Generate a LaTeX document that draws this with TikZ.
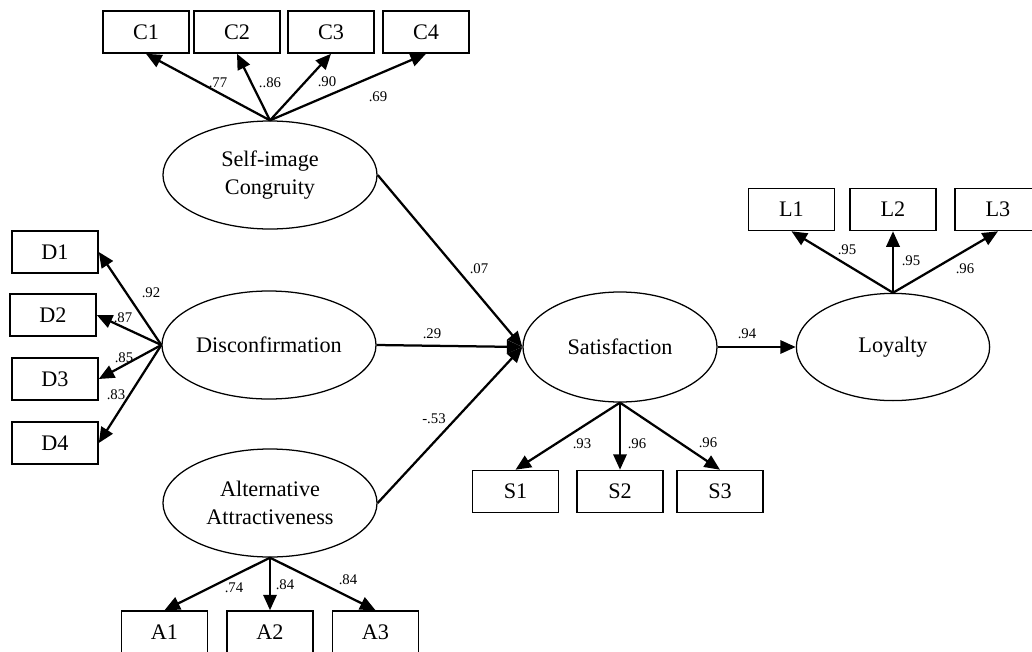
\documentclass[tikz,border=0pt]{standalone}
\usepackage{fontspec}
\setmainfont{Liberation Serif}
\usetikzlibrary{shapes.geometric,arrows.meta}

\begin{document}
\begin{tikzpicture}[x=0.025cm, y=-0.025cm,
  latent/.style={ellipse, draw, line width=0.9pt, inner sep=0pt,
                 minimum width=5.35cm, minimum height=2.7cm, align=center,
                 font=\fontsize{15.8}{20}\selectfont},
  item/.style={rectangle, draw, line width=1.1pt, minimum width=2.15cm,
               minimum height=1.05cm, font=\fontsize{15.8}{18}\selectfont},
  fleche/.style={-{Triangle[length=11pt,width=9.5pt]}, line width=1.6pt},
  poids/.style={font=\fontsize{10.5}{12}\selectfont, inner sep=0pt}]

  \useasboundingbox (0,0) rectangle (1032,651);

  % latent variables
  \node[latent] (SIC) at (270,175) {Self-image\\Congruity};
  \node[latent] (DIS) at (269,345) {Disconfirmation};
  \node[latent] (ALT) at (270,503) {Alternative\\Attractiveness};
  \node[latent, minimum width=4.85cm, minimum height=2.75cm] (SAT) at (620,347) {Satisfaction};
  \node[latent, minimum width=4.83cm, minimum height=2.68cm] (LOY) at (893,347) {Loyalty};

  % indicators
  \foreach \n/\x in {C1/146,C2/237,C3/331,C4/426}
    \node[item] (\n) at (\x,32) {\n};
  \foreach \n/\x/\y in {D1/55/252,D2/53/315,D3/55/379,D4/55/443}
    \node[item] (\n) at (\x,\y) {\n};
  \foreach \n/\x in {A1/164.5,A2/270,A3/375.5}
    \node[item] (\n) at (\x,632) {\n};
  \foreach \n/\x in {S1/515.5,S2/620,S3/720}
    \node[item] (\n) at (\x,491.5) {\n};
  \foreach \n/\x in {L1/791.5,L2/893,L3/998}
    \node[item] (\n) at (\x,209.5) {\n};

  % loadings
  \foreach \n in {C1,C2,C3,C4} \draw[fleche] (SIC.north) -- (\n.south);
  \foreach \n in {D1,D2,D3,D4} \draw[fleche] (DIS.west) -- (\n.east);
  \foreach \n in {A1,A2,A3} \draw[fleche] (ALT.south) -- (\n.north);
  \foreach \n in {S1,S2,S3} \draw[fleche] (SAT.south) -- (\n.north);
  \foreach \n in {L1,L2,L3} \draw[fleche] (LOY.north) -- (\n.south);

  % structural paths
  \draw[fleche] (SIC.east) -- (SAT.west);
  \draw[fleche] (DIS.east) -- (SAT.west);
  \draw[fleche] (ALT.east) -- (SAT.west);
  \draw[fleche] (SAT.east) -- (LOY.west);

  % coefficients
  \foreach \t/\x/\y [count=\i] in {.77/218/83,..86/270/83,.90/327/82,.69/378/97,
      .92/151/293,.87/123/318,.85/124/358,.83/116/395,
      .74/234/588,.84/285/585,.84/348/580,
      .07/479/269,.29/432/334,-.53/434/419,
      .93/582/444,.96/637/444,.96/708/443,
      .94/747/334,.95/847/250,.95/911/261,.96/965/269}
    \node[poids] (w\i) at (\x,\y) {\t};
\end{tikzpicture}
\end{document}
